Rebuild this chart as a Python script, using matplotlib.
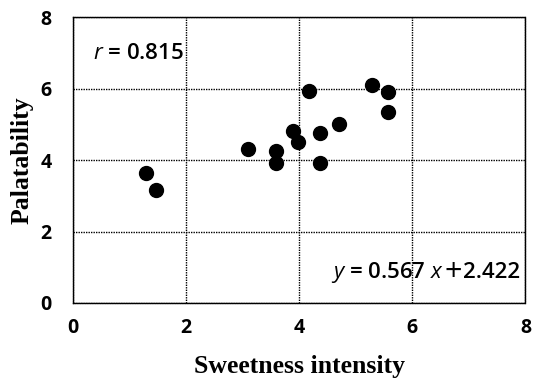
import matplotlib
matplotlib.use("Agg")
import matplotlib.pyplot as plt

# sweetness intensity vs palatability
sweetness = [1.29, 1.48, 3.09, 3.59, 3.59, 3.89, 3.99, 4.18, 4.37, 4.37, 4.70, 5.29, 5.58, 5.58]
palatability = [3.63, 3.15, 4.32, 4.26, 3.93, 4.83, 4.50, 5.93, 4.76, 3.93, 5.02, 6.12, 5.91, 5.34]
ticks = [0, 2, 4, 6, 8]
r_text = "0.815"
slope_text = "0.567"
intercept_text = "2.422"

plt.rcParams["mathtext.fontset"] = "custom"
plt.rcParams["mathtext.it"] = "Open Sans:italic"

fig = plt.figure(figsize=(5.34, 3.8), dpi=100)
ax = fig.add_axes([0.136, 0.203, 0.848, 0.751])

ax.scatter(sweetness, palatability, s=100, color="black", zorder=3)

ax.set_xlim(0, 8)
ax.set_ylim(0, 8)
ax.set_xticks(ticks)
ax.set_yticks(ticks)
ax.tick_params(length=0, labelsize=14)
ax.tick_params(axis="y", pad=15)
ax.tick_params(axis="x", pad=11)
for lab in ax.get_xticklabels() + ax.get_yticklabels():
    lab.set_fontfamily("Open Sans")
    lab.set_fontweight("bold")

ax.grid(True, color="black", linestyle=(0, (1, 0.8)), linewidth=1.0)
for sp in ax.spines.values():
    sp.set_linestyle((0, (1, 0.8)))
    sp.set_linewidth(1.0)

ax.set_xlabel("Sweetness intensity", family="Liberation Serif", fontweight="bold", fontsize=18.5, labelpad=12)
ax.set_ylabel("Palatability", family="Liberation Serif", fontweight="bold", fontsize=18.5, labelpad=5)

ax.text(0.36, 7.0, "$r$ = " + r_text, fontsize=16, family="Open Sans", fontweight=600, va="center")

# regression equation, pieces chained so the big plus sits between them
t1 = ax.text(4.57, 0.85, "$y$ = " + slope_text + " $x$", fontsize=16, family="Open Sans",
             fontweight=600, va="center")
t2 = ax.annotate("+", xy=(1, 0.5), xycoords=t1, xytext=(0.5, 0), textcoords="offset points",
                 fontsize=22, family="Open Sans", va="center", ha="left")
ax.annotate(intercept_text, xy=(1, 0.5), xycoords=t2, xytext=(0.5, 0), textcoords="offset points",
            fontsize=16, family="Open Sans", fontweight=600, va="center", ha="left")

fig.savefig("out.png", dpi=100)
